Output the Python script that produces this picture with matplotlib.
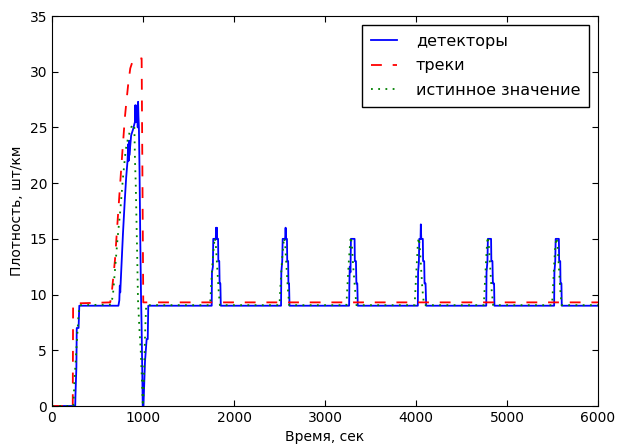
import matplotlib
matplotlib.use("Agg")
import matplotlib.pyplot as plt

# detectors (blue solid)
det_t = [0, 255, 258, 268, 272, 292, 300, 730, 740, 745, 750, 760, 780, 800, 815, 830, 838, 842, 846, 850,
         856, 870, 890, 905, 912, 916, 920, 925, 930, 938, 942, 946, 950, 955, 962, 970, 978, 985, 992, 997,
         1005, 1022, 1040, 1052, 1058,
         1755, 1758, 1768, 1772, 1800, 1803, 1808, 1812, 1815, 1825, 1828, 1838, 1842, 1850, 1855,
         2517, 2520, 2530, 2535, 2562, 2567, 2572, 2578, 2582, 2585, 2595, 2598, 2605, 2610,
         3265, 3268, 3272, 3280, 3285, 3325, 3328, 3340, 3345, 3355, 3360,
         4020, 4023, 4032, 4036, 4050, 4053, 4058, 4075, 4078, 4090, 4094, 4105, 4112,
         4772, 4775, 4785, 4790, 4825, 4828, 4840, 4845, 4858, 4862,
         5518, 5521, 5530, 5535, 5570, 5573, 5585, 5588, 5598, 5602, 6000]
det_v = [0, 0, 1, 3.5, 7, 7, 9, 9, 9.5, 10.8, 10.2, 12, 15.5, 18.5, 20.5, 22, 23.5, 22, 23.8, 22.5,
         23, 24.3, 24.8, 25.3, 25.5, 27, 25.5, 26.8, 25.5, 27, 25, 27.3, 26, 25, 21, 15, 10, 7, 3, 0,
         0, 4, 6, 6, 9,
         9, 12, 12.5, 15, 15, 16, 15, 16, 15, 15, 13, 13, 11, 11, 9,
         9, 12, 13, 15, 15, 16, 15, 15, 15, 13, 13, 11, 11, 9,
         9, 11, 12.5, 12, 15, 15, 13, 13, 11, 11, 9,
         9, 12, 13, 15, 15, 16.3, 15, 15, 13, 13, 11, 11, 9,
         9, 12, 13, 15, 15, 13, 13, 11, 11, 9,
         9, 12, 13, 15, 15, 13, 13, 11, 11, 9, 9]

# tracks (red dashed)
trk_t = [0, 228, 232, 640, 656, 692, 720, 747, 775, 802, 820, 839, 860, 880, 900, 985, 1003, 6000]
trk_v = [0, 0, 9.2, 9.3, 10.1, 13.1, 16.5, 19.7, 23, 26, 27.5, 29, 30.3, 30.8, 31.1, 31.2, 9.3, 9.3]

# true value (green dotted)
true_t = [0, 235, 245, 260, 275, 290, 305, 650, 670, 690, 720, 750, 780, 810, 840, 870, 890, 905, 912,
          920, 935, 945, 960, 975, 990, 998, 1005, 1015, 1025, 1035,
          1737, 1750, 1765, 1780, 1790, 1800, 1815, 1830, 1845,
          2500, 2512, 2527, 2542, 2552, 2562, 2577, 2592, 2607,
          3235, 3248, 3262, 3275, 3283, 3295, 3310, 3330, 3345,
          3985, 3997, 4010, 4020, 4028, 4040, 4055, 4070, 4088,
          4745, 4757, 4770, 4780, 4788, 4800, 4815, 4830, 4848,
          5495, 5508, 5520, 5532, 5545, 5555, 5570, 5585, 5600, 6000]
true_v = [0, 0, 2, 4, 6, 8, 9.05, 9.1, 10, 12, 15, 17.5, 20.5, 23, 24.2, 25, 25.3, 25, 22,
          20, 14, 9.5, 7, 5, 2, 0, 1, 4, 7, 9.05,
          9.05, 11, 13, 14.5, 15.1, 14.5, 12.5, 10.5, 9.05,
          9.05, 11, 13, 14.5, 15.1, 14.5, 12.5, 10.5, 9.05,
          9.05, 11, 13, 14.5, 15.2, 14.5, 12.5, 10.5, 9.05,
          9.05, 11, 13, 14.5, 15.1, 14.5, 12.5, 10.5, 9.05,
          9.05, 11, 13, 14.5, 15.2, 14.5, 12.5, 10.5, 9.05,
          9.05, 11, 13, 14.5, 15.1, 14.5, 12.5, 10.5, 9.05, 9.05]

plt.rcParams.update({
    "font.size": 10,
    "xtick.direction": "in",
    "ytick.direction": "in",
    "xtick.top": True,
    "ytick.right": True,
    "xtick.major.size": 4,
    "ytick.major.size": 4,
})

fig = plt.figure(figsize=(6.17, 4.46), dpi=100)
ax = fig.add_axes([52 / 617, 40 / 446, 546 / 617, 390 / 446])

ax.plot(det_t, det_v, color="b", lw=1.3, label="детекторы")
ax.plot(trk_t, trk_v, color="r", lw=1.3, ls=(0, (6, 6)), label="треки")
ax.plot(true_t, true_v, color="g", lw=1.3, ls=(0, (1, 3)), label="истинное значение")

ax.set_xlim(0, 6000)
ax.set_ylim(0, 35)
ax.set_xticks(range(0, 6001, 1000))
ax.set_yticks(range(0, 36, 5))
ax.set_xlabel("Время, сек", labelpad=4)
ax.set_ylabel("Плотность, шт/км", labelpad=4)

leg = ax.legend(loc="upper right", fontsize=11.5, fancybox=False, framealpha=1,
                edgecolor="black", handlelength=1.6, handletextpad=1.2,
                borderpad=0.55, labelspacing=0.6, borderaxespad=0.56)
leg.get_frame().set_linewidth(1.0)

fig.savefig("out.png", dpi=100)
